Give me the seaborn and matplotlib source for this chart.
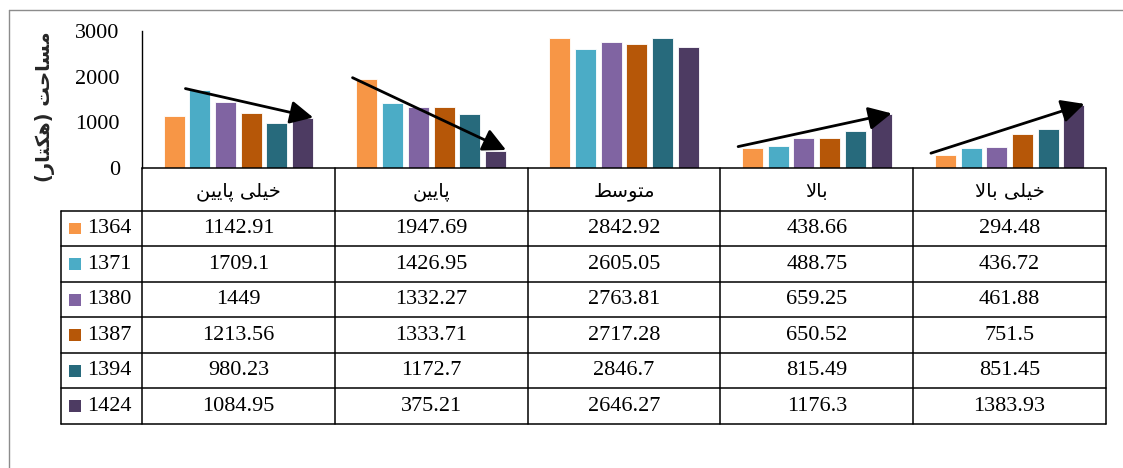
import pandas as pd
import matplotlib.pyplot as plt
import seaborn as sns
from matplotlib.lines import Line2D
from matplotlib.patches import Rectangle

# Persian labels written in visual (left-to-right) order with Arabic presentation forms,
# because matplotlib does no shaping / bidi on its own
khili = '\uFBFD\uFEE0\uFBFF\uFEA7'
payin = '\uFEE6\uFBFF\uFBFE\uFE8E\uFB58'
motavaset = '\uFEC2\uFEB3\uFEEE\uFE98\uFEE3'
bala = '\uFEFB\uFE8E\uFE91'
masahat = '\uFE96\uFEA3\uFE8E\uFEB4\uFEE3'
hektar = '\uFEAD\uFE8E\uFE98\uFB91\uFEEB'

categories = [payin + ' ' + khili, payin, motavaset, bala, bala + ' ' + khili]
years = ['1364', '1371', '1380', '1387', '1394', '1424']
y_label = '(' + hektar + ') ' + masahat

area_1364 = [1142.91, 1947.69, 2842.92, 438.66, 294.48]
area_1371 = [1709.1, 1426.95, 2605.05, 488.75, 436.72]
area_1380 = [1449, 1332.27, 2763.81, 659.25, 461.88]
area_1387 = [1213.56, 1333.71, 2717.28, 650.52, 751.5]
area_1394 = [980.23, 1172.7, 2846.7, 815.49, 851.45]
area_1424 = [1084.95, 375.21, 2646.27, 1176.3, 1383.93]
yticks = [0, 1000, 2000, 3000]

colors = ['#F79646', '#4BACC6', '#8064A2', '#B65708', '#276A7C', '#4D3B62']

# trend arrows: (first year index, last year index) per category, None = no arrow
trends = [(1, 5), (0, 5), None, (0, 5), (0, 5)]

series = [area_1364, area_1371, area_1380, area_1387, area_1394, area_1424]
df = pd.DataFrame({
    'year': [y for y, s in zip(years, series) for _ in s],
    'category': categories * len(years),
    'area': [v for s in series for v in s],
})

sns.set_style('white')
plt.rcParams['font.family'] = ['Liberation Serif', 'DejaVu Sans']

W, H = 1123, 468
fig = plt.figure(figsize=(W / 100, H / 100), dpi=100)

# chart frame (only top and left edges are visible in the crop)
fig.add_artist(Line2D([9 / W, 9 / W], [0, (H - 10) / H], transform=fig.transFigure, color='#8c8c8c', lw=1))
fig.add_artist(Line2D([9 / W, 1], [(H - 10) / H, (H - 10) / H], transform=fig.transFigure, color='#8c8c8c', lw=1))

# ---------------- bars ----------------
ax = fig.add_axes([142 / W, (H - 168) / H, (1106 - 142) / W, (168 - 31) / H])
sns.barplot(data=df, x='category', y='area', hue='year', palette=colors,
            saturation=1, width=0.8, gap=0.18, edgecolor='white', linewidth=0.6,
            legend=False, ax=ax)
ax.set_xlim(-0.5, 4.5)
ax.set_ylim(0, 3000)
ax.set_yticks(yticks)
ax.set_yticklabels([str(t) for t in yticks], fontsize=16, color='black')
ax.tick_params(axis='y', length=0, pad=16)
ax.set_xticks([])
ax.set_xlabel('')
ax.set_ylabel('')
for side in ['top', 'right', 'bottom']:
    ax.spines[side].set_visible(False)
ax.spines['left'].set_color('black')
ax.spines['left'].set_linewidth(1)

for ci, tr in enumerate(trends):
    if tr is None:
        continue
    b0 = ax.containers[tr[0]][ci]
    b1 = ax.containers[tr[1]][ci]
    x0 = b0.get_x() - 0.02
    y0 = b0.get_height() + 30
    x1 = b1.get_x() + b1.get_width()
    y1 = b1.get_height() + 20
    ax.annotate('', xy=(x1, y1), xytext=(x0, y0),
                arrowprops=dict(arrowstyle='-|>,head_length=1.0,head_width=0.5',
                                color='black', lw=2, mutation_scale=14,
                                shrinkA=0, shrinkB=0))

fig.text(45 / W, (H - 107) / H, y_label, rotation=90, ha='center', va='center',
         fontsize=14, fontweight='bold', family=['DejaVu Sans'])

# ---------------- data table ----------------
unit = (1106 - 142) / 5
x_left = -0.5 - (142 - 61) / unit
row_h = 35.8
hdr = 43 / row_h
tax = fig.add_axes([61 / W, (H - 424) / H, (1106 - 61) / W, (424 - 168) / H])
tax.set_xlim(x_left, 4.5)
tax.set_ylim(hdr + len(years), 0)
tax.axis('off')

lw = 1.1
tax.plot([-0.5, 4.5], [0, 0], color='black', lw=lw, clip_on=False)
for k in range(len(years) + 1):
    tax.plot([x_left, 4.5], [hdr + k, hdr + k], color='black', lw=lw, clip_on=False)
for k in range(6):
    tax.plot([k - 0.5, k - 0.5], [0, hdr + len(years)], color='black', lw=lw, clip_on=False)
tax.plot([x_left, x_left], [hdr, hdr + len(years)], color='black', lw=lw, clip_on=False)

for ci, cat in enumerate(categories):
    tax.text(ci, hdr / 2 + 0.05, cat, ha='center', va='center', fontsize=14,
             family=['DejaVu Sans'], color='black')

for ri, (yr, s) in enumerate(zip(years, series)):
    yc = hdr + ri + 0.5
    tax.add_patch(Rectangle((x_left + 8 / unit, yc - 6 / row_h), 12 / unit, 12 / row_h,
                            facecolor=colors[ri], edgecolor='none'))
    tax.text(x_left + 26 / unit, yc, yr, ha='left', va='center', fontsize=16, color='black')
    for ci, v in enumerate(s):
        tax.text(ci, yc, f'{v:g}', ha='center', va='center', fontsize=16, color='black')

fig.savefig('out.png', dpi=100)
